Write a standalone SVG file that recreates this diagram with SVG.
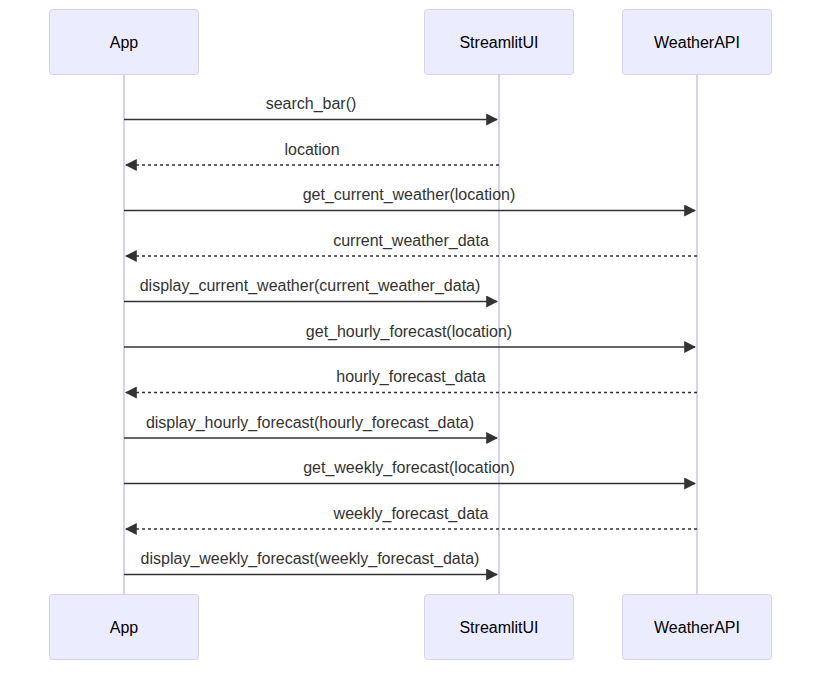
<svg xmlns="http://www.w3.org/2000/svg" width="829" height="677" viewBox="0 0 829 677">
  <style>
    .actor rect { fill: #ECECFF; stroke: #DAD0F3; stroke-width: 1; }
    .actor text { font-family: "Liberation Sans", Arial, sans-serif; font-size: 16px; fill: #000; text-anchor: middle; dominant-baseline: central; }
    .lifeline { stroke: #DAD0F3; stroke-width: 2; }
    .msg { stroke: #333; stroke-width: 1.5; fill: none; }
    .reply { stroke-dasharray: 3 3; }
    .label { font-family: "Liberation Sans", Arial, sans-serif; font-size: 16px; fill: #333; text-anchor: middle; }
  </style>
  <defs>
    <marker id="arrowhead" markerUnits="userSpaceOnUse" markerWidth="12" markerHeight="12" viewBox="0 0 10 10" refX="9" refY="5" orient="auto">
      <path d="M0,0 L10,5 L0,10 z" fill="#333"/>
    </marker>
  </defs>
  <rect width="829" height="677" fill="#fff"/>

  <!-- lifelines -->
  <g id="lifelines">
    <line class="lifeline" x1="124" y1="74" x2="124" y2="595"/>
    <line class="lifeline" x1="499" y1="74" x2="499" y2="595"/>
    <line class="lifeline" x1="697" y1="74" x2="697" y2="595"/>
  </g>

  <!-- participants (top) -->
  <g id="actor-app-top" class="actor">
    <rect x="49.5" y="9.5" width="149" height="65" rx="3"/>
    <text x="124" y="42">App</text>
  </g>
  <g id="actor-ui-top" class="actor">
    <rect x="424.5" y="9.5" width="149" height="65" rx="3"/>
    <text x="499" y="42">StreamlitUI</text>
  </g>
  <g id="actor-api-top" class="actor">
    <rect x="622.5" y="9.5" width="149" height="65" rx="3"/>
    <text x="697" y="42">WeatherAPI</text>
  </g>

  <!-- participants (bottom) -->
  <g id="actor-app-bottom" class="actor">
    <rect x="49.5" y="594.5" width="149" height="65" rx="3"/>
    <text x="124" y="627">App</text>
  </g>
  <g id="actor-ui-bottom" class="actor">
    <rect x="424.5" y="594.5" width="149" height="65" rx="3"/>
    <text x="499" y="627">StreamlitUI</text>
  </g>
  <g id="actor-api-bottom" class="actor">
    <rect x="622.5" y="594.5" width="149" height="65" rx="3"/>
    <text x="697" y="627">WeatherAPI</text>
  </g>

  <!-- messages -->
  <g id="messages">
    <text class="label" x="311" y="109">search_bar()</text>
    <line class="msg" x1="124" y1="119.5" x2="497" y2="119.5" marker-end="url(#arrowhead)"/>

    <text class="label" x="312" y="154.5">location</text>
    <line class="msg reply" x1="499" y1="165" x2="126" y2="165" marker-end="url(#arrowhead)"/>

    <text class="label" x="409" y="200">get_current_weather(location)</text>
    <line class="msg" x1="124" y1="210.5" x2="695" y2="210.5" marker-end="url(#arrowhead)"/>

    <text class="label" x="411" y="245.5">current_weather_data</text>
    <line class="msg reply" x1="697" y1="256" x2="126" y2="256" marker-end="url(#arrowhead)"/>

    <text class="label" x="310" y="291">display_current_weather(current_weather_data)</text>
    <line class="msg" x1="124" y1="301.5" x2="497" y2="301.5" marker-end="url(#arrowhead)"/>

    <text class="label" x="409" y="336.5">get_hourly_forecast(location)</text>
    <line class="msg" x1="124" y1="347" x2="695" y2="347" marker-end="url(#arrowhead)"/>

    <text class="label" x="411" y="382">hourly_forecast_data</text>
    <line class="msg reply" x1="697" y1="392.5" x2="126" y2="392.5" marker-end="url(#arrowhead)"/>

    <text class="label" x="310" y="427.5">display_hourly_forecast(hourly_forecast_data)</text>
    <line class="msg" x1="124" y1="438" x2="497" y2="438" marker-end="url(#arrowhead)"/>

    <text class="label" x="409" y="473">get_weekly_forecast(location)</text>
    <line class="msg" x1="124" y1="483.5" x2="695" y2="483.5" marker-end="url(#arrowhead)"/>

    <text class="label" x="411" y="518.5">weekly_forecast_data</text>
    <line class="msg reply" x1="697" y1="529" x2="126" y2="529" marker-end="url(#arrowhead)"/>

    <text class="label" x="310" y="564">display_weekly_forecast(weekly_forecast_data)</text>
    <line class="msg" x1="124" y1="574.5" x2="497" y2="574.5" marker-end="url(#arrowhead)"/>
  </g>
</svg>
